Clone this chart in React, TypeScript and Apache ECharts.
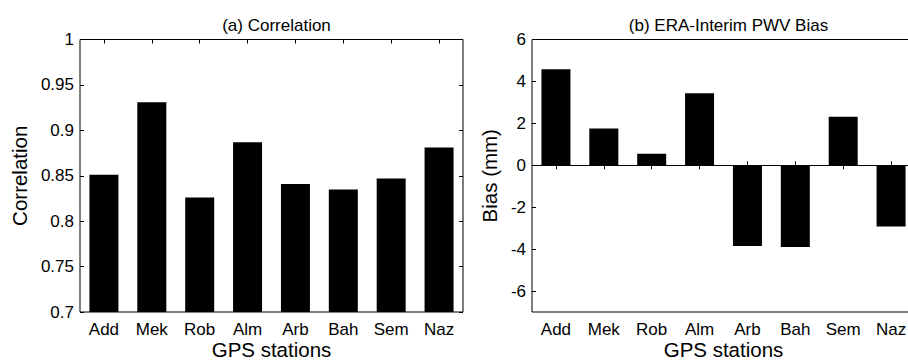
import React, { useEffect, useRef } from "react";
import * as echarts from "echarts";

const stations = ["Add", "Mek", "Rob", "Alm", "Arb", "Bah", "Sem", "Naz"];
const correlation = [0.851, 0.931, 0.826, 0.887, 0.841, 0.835, 0.847, 0.881];
const biasMm = [4.58, 1.75, 0.55, 3.44, -3.85, -3.9, 2.32, -2.92];
const biasTicks = [-6, -4, -2, 0, 2, 4, 6];

const FONT = "'Liberation Sans', Arial, Helvetica, sans-serif";

export default function App() {
  const ref = useRef<HTMLDivElement>(null);
  useEffect(() => {
    if (!ref.current) return;
    const chart = echarts.init(ref.current, undefined, { renderer: "svg" });
    const tickStyle = { show: true, inside: true, length: 4, lineStyle: { color: "#000", width: 1 } };
    const label = { color: "#000", fontSize: 17, fontFamily: FONT };
    const nameStyle = { color: "#000", fontSize: 20.5, fontFamily: FONT };
    const catAxis = (gridIndex: number, pos: "top" | "bottom", showLabel: boolean) => ({
      type: "category",
      gridIndex,
      position: pos,
      data: stations,
      axisLine: { show: false },
      axisTick: { ...tickStyle, alignWithLabel: true },
      axisLabel: { show: showLabel, ...label, margin: 9 },
      splitLine: { show: false },
      name: showLabel ? "GPS stations" : "",
      nameLocation: "middle",
      nameGap: 26,
      nameMoveOverlap: false,
      nameTextStyle: { ...nameStyle, lineHeight: 22 },
    });
    const gridBase = {
      top: 39.5,
      width: 383,
      height: 272.5,
      show: true,
      borderColor: "#000",
      borderWidth: 1,
      backgroundColor: "transparent",
      containLabel: false,
      outerBoundsMode: "none",
    };
    const titleStyle = { color: "#000", fontSize: 17, fontWeight: "normal", fontFamily: FONT };
    const option: any = {
      animation: false,
      backgroundColor: "#fff",
      title: [
        { text: "(a) Correlation", left: 271.5, top: 12, textAlign: "center", textStyle: titleStyle },
        { text: "(b) ERA-Interim PWV Bias", left: 723.5, top: 12, textAlign: "center", textStyle: titleStyle },
      ],
      grid: [
        { ...gridBase, left: 80 },
        { ...gridBase, left: 532 },
      ],
      xAxis: [catAxis(0, "bottom", true), catAxis(0, "top", false), catAxis(1, "bottom", true), catAxis(1, "top", false)],
      yAxis: [
        {
          type: "value",
          gridIndex: 0,
          position: "left",
          min: 0.7,
          max: 1,
          interval: 0.05,
          axisLine: { show: false },
          axisTick: tickStyle,
          splitLine: { show: false },
          axisLabel: { ...label, margin: 6 },
          name: "Correlation",
          nameLocation: "middle",
          nameGap: 50,
          nameMoveOverlap: false,
          nameTextStyle: nameStyle,
        },
        {
          type: "value",
          gridIndex: 0,
          position: "right",
          min: 0.7,
          max: 1,
          interval: 0.05,
          axisLine: { show: false },
          axisTick: tickStyle,
          splitLine: { show: false },
          axisLabel: { show: false },
        },
        {
          type: "value",
          gridIndex: 1,
          position: "left",
          min: -7,
          max: 6,
          axisLine: { show: false },
          axisTick: { ...tickStyle, customValues: biasTicks },
          splitLine: { show: false },
          axisLabel: { ...label, margin: 6, customValues: biasTicks },
          name: "Bias (mm)",
          nameLocation: "middle",
          nameGap: 32,
          nameMoveOverlap: false,
          nameTextStyle: nameStyle,
        },
        {
          type: "value",
          gridIndex: 1,
          position: "right",
          min: -7,
          max: 6,
          axisLine: { show: false },
          axisTick: { ...tickStyle, customValues: biasTicks },
          splitLine: { show: false },
          axisLabel: { show: false, customValues: biasTicks },
        },
      ],
      series: [
        {
          type: "bar",
          xAxisIndex: 0,
          yAxisIndex: 0,
          data: correlation,
          barWidth: 29,
          itemStyle: { color: "#000" },
          clip: true,
        },
        {
          type: "bar",
          xAxisIndex: 2,
          yAxisIndex: 2,
          data: biasMm,
          barWidth: 29,
          itemStyle: { color: "#000" },
          markLine: {
            silent: true,
            symbol: "none",
            label: { show: false },
            lineStyle: { color: "#000", width: 1, type: "solid" },
            data: [{ yAxis: 0 }],
          },
        },
      ],
    };
    chart.setOption(option);
    return () => chart.dispose();
  }, []);
  return (
    <div
      ref={ref}
      style={{ position: "fixed", left: 0, top: 0, width: 920, height: 362, background: "#fff" }}
    />
  );
}
